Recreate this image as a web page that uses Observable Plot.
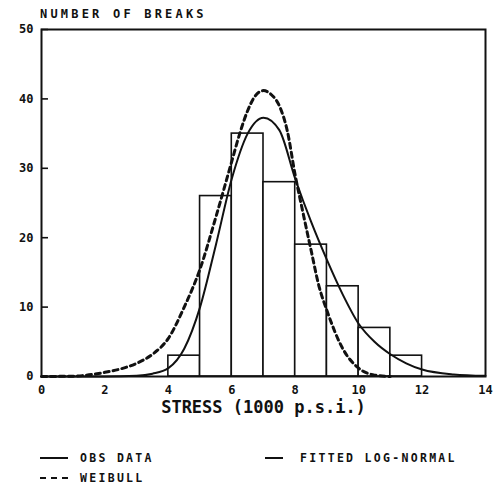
<!DOCTYPE html>
<html><head><meta charset="utf-8">
<script src="https://cdn.jsdelivr.net/npm/d3@7"></script>
<script src="https://cdn.jsdelivr.net/npm/@observablehq/plot@0.6"></script>
<style>
body{margin:0;background:#fff;font-family:"DejaVu Sans Mono",monospace;color:#111;}
#wrap{width:493px;height:489px;position:relative;}
#title{height:22px;padding-left:40px;box-sizing:border-box;padding-top:8px;font-size:12px;font-weight:bold;letter-spacing:3.2px;line-height:12px;}
#legend{position:relative;height:59px;font-size:11.5px;font-weight:bold;letter-spacing:2.3px;}
.ln{position:absolute;height:0;border-top:2px solid #111;}
.lt{position:absolute;line-height:14px;}
</style></head>
<body><div id="wrap">
<div id="title">NUMBER OF BREAKS</div>
<div id="chart"></div>
<div id="legend"></div>
</div>
<script>
// histogram bins (1000 p.s.i.)
const binStart = [4, 5, 6, 7, 8, 9, 10, 11];
const binEnd   = [5, 6, 7, 8, 9, 10, 11, 12];
const breaks   = [3, 26, 35, 28, 19, 13, 7, 3];

// fitted log-normal curve (solid)
const lnX = [0, 2, 3, 3.5, 4, 4.5, 5, 5.5, 6, 6.5, 7, 7.5, 8, 8.5, 9, 9.5, 10, 10.5, 11, 11.5, 12, 13, 14];
const lnY = [0, 0, 0.1, 0.4, 1.2, 4, 10, 19, 28.5, 35, 37.3, 35.5, 28.5, 22.3, 16.8, 11.8, 7.6, 5, 3.2, 1.9, 1.0, 0.3, 0.1];

// Weibull curve (dashed)
const wbX = [0, 1, 2, 2.5, 3, 3.5, 4, 4.5, 5, 5.5, 6, 6.25, 6.5, 6.75, 7, 7.25, 7.5, 7.75, 8, 8.25, 8.5, 8.75, 9, 9.5, 10, 10.5, 11];
const wbY = [0, 0.05, 0.6, 1.1, 1.9, 3.2, 5.5, 10, 15.5, 23, 31, 35, 38.3, 40.5, 41.2, 40.6, 39, 35.4, 29, 23.5, 18.2, 13, 9.5, 4, 1.2, 0.2, 0];

const xTicks = [0, 2, 4, 6, 8, 10, 12, 14];
const yTicks = [0, 10, 20, 30, 40, 50];

const bins = binStart.map((s, i) => ({x1: s, x2: binEnd[i], y: breaks[i]}));
const ln = lnX.map((x, i) => ({x, y: lnY[i]}));
const wb = wbX.map((x, i) => ({x, y: wbY[i]}));

const ink = "#111";
const plot = Plot.plot({
  width: 493, height: 408,
  marginTop: 7, marginBottom: 54, marginLeft: 41, marginRight: 8,
  style: {fontFamily: "DejaVu Sans Mono, monospace", fontSize: "12px", fontWeight: "bold", background: "#fff", color: ink, overflow: "visible"},
  x: {domain: [0, 14]},
  y: {domain: [0, 50]},
  marks: [
    Plot.rectY(bins, {x1: "x1", x2: "x2", y: "y", fill: "#fff", stroke: ink, strokeWidth: 1.6}),
    Plot.line(ln, {x: "x", y: "y", curve: "monotone-x", stroke: ink, strokeWidth: 2}),
    Plot.line(wb, {x: "x", y: "y", curve: "monotone-x", stroke: ink, strokeWidth: 3, strokeDasharray: "5,4"}),
    Plot.ruleY(yTicks, {x1: 0, x2: 0.22, stroke: ink, strokeWidth: 1.6}),
    Plot.frame({stroke: ink, strokeWidth: 2}),
    Plot.axisX(xTicks, {tickSize: 0, tickPadding: 9, label: null, fontSize: 12, fontWeight: "bold"}),
    Plot.axisY(yTicks, {tickSize: 0, tickPadding: 8, label: null, fontSize: 12, fontWeight: "bold"}),
    Plot.text(["STRESS (1000 p.s.i.)"], {frameAnchor: "bottom", dy: 36, fontSize: 17, fontWeight: "bold", fill: ink})
  ]
});
document.getElementById("chart").appendChild(plot);

const legendItems = [
  {label: "OBS DATA", x: 40, y: 28, dash: false},
  {label: "FITTED LOG-NORMAL", x: 265, y: 28, dash: false},
  {label: "WEIBULL", x: 40, y: 48, dash: true}
];
const lg = document.getElementById("legend");
for (const it of legendItems) {
  const l = document.createElement("div");
  l.className = "ln";
  l.style.left = it.x + "px";
  l.style.top = (it.y - 1) + "px";
  l.style.width = (it.x > 100 ? 18 : 28) + "px";
  if (it.dash) { l.style.borderTop = "2.5px dashed #111"; }
  lg.appendChild(l);
  const t = document.createElement("div");
  t.className = "lt";
  t.textContent = it.label;
  t.style.left = (it.x + (it.x > 100 ? 35 : 40)) + "px";
  t.style.top = (it.y - 7) + "px";
  lg.appendChild(t);
}
</script>
</body></html>
